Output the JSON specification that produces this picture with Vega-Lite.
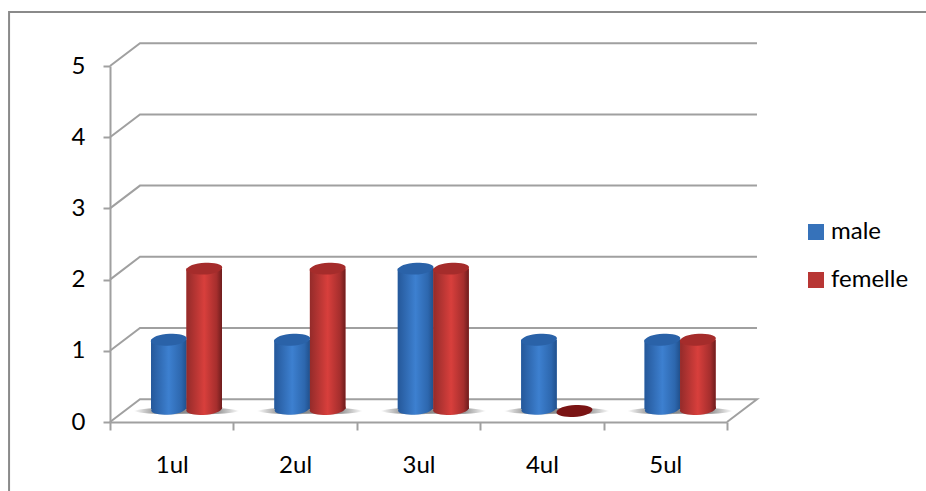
{
  "$schema": "https://vega.github.io/schema/vega-lite/v6.json",
  "width": 617,
  "height": 356,
  "autosize": "none",
  "padding": {"left": 110, "top": 66, "right": 199, "bottom": 69},
  "background": "white",
  "config": {"view": {"stroke": null}, "font": "Lato"},
  "datasets": {
    "wire": [
      {"line": "frame", "step": 0, "col": -0.818, "lvl": -0.97},
      {"line": "frame", "step": 1, "col": -0.818, "lvl": 5.758},
      {"line": "frame", "step": 2, "col": 6.62, "lvl": 5.758},
      {"line": "floor", "step": 0, "col": 0, "lvl": 0},
      {"line": "floor", "step": 1, "col": 0.243, "lvl": 0.32},
      {"line": "floor", "step": 2, "col": 5.243, "lvl": 0.32},
      {"line": "floor", "step": 3, "col": 5, "lvl": 0},
      {"line": "g1", "step": 0, "col": 0, "lvl": 1},
      {"line": "g1", "step": 1, "col": 0.243, "lvl": 1.32},
      {"line": "g1", "step": 2, "col": 5.243, "lvl": 1.32},
      {"line": "g2", "step": 0, "col": 0, "lvl": 2},
      {"line": "g2", "step": 1, "col": 0.243, "lvl": 2.32},
      {"line": "g2", "step": 2, "col": 5.243, "lvl": 2.32},
      {"line": "g3", "step": 0, "col": 0, "lvl": 3},
      {"line": "g3", "step": 1, "col": 0.243, "lvl": 3.32},
      {"line": "g3", "step": 2, "col": 5.243, "lvl": 3.32},
      {"line": "g4", "step": 0, "col": 0, "lvl": 4},
      {"line": "g4", "step": 1, "col": 0.243, "lvl": 4.32},
      {"line": "g4", "step": 2, "col": 5.243, "lvl": 4.32},
      {"line": "g5", "step": 0, "col": 0, "lvl": 5},
      {"line": "g5", "step": 1, "col": 0.243, "lvl": 5.32},
      {"line": "g5", "step": 2, "col": 5.243, "lvl": 5.32}
    ],
    "counts": [
      {"classe": "1ul", "sexe": "male", "n": 1},
      {"classe": "1ul", "sexe": "femelle", "n": 2},
      {"classe": "2ul", "sexe": "male", "n": 1},
      {"classe": "2ul", "sexe": "femelle", "n": 2},
      {"classe": "3ul", "sexe": "male", "n": 2},
      {"classe": "3ul", "sexe": "femelle", "n": 2},
      {"classe": "4ul", "sexe": "male", "n": 1},
      {"classe": "4ul", "sexe": "femelle", "n": 0},
      {"classe": "5ul", "sexe": "male", "n": 1},
      {"classe": "5ul", "sexe": "femelle", "n": 1}
    ]
  },
  "resolve": {"scale": {"x": "independent"}, "axis": {"x": "independent"}},
  "layer": [
    {
      "data": {"name": "wire"},
      "mark": {"type": "line", "strokeWidth": 2, "strokeJoin": "miter", "clip": false},
      "encoding": {
        "x": {"field": "col", "type": "quantitative", "axis": null, "scale": {"domain": [0, 5], "nice": false, "zero": false}},
        "y": {
          "field": "lvl",
          "type": "quantitative",
          "scale": {"domain": [0, 5], "nice": false},
          "axis": {
            "title": null,
            "values": [0, 1, 2, 3, 4, 5],
            "format": "d",
            "grid": false,
            "domainColor": "#a0a0a0",
            "domainWidth": 2,
            "tickColor": "#a0a0a0",
            "tickWidth": 2,
            "tickSize": 7,
            "labelPadding": 18,
            "labelFont": "Lato",
            "labelFontSize": 24,
            "labelColor": "#000000"
          }
        },
        "detail": {"field": "line"},
        "order": {"field": "step"},
        "color": {"condition": {"test": "datum.line == 'frame'", "value": "#8a8a8a"}, "value": "#a0a0a0"}
      }
    },
    {
      "data": {"name": "counts"},
      "encoding": {
        "x": {
          "field": "classe",
          "type": "nominal",
          "scale": {"paddingInner": 0, "paddingOuter": 0},
          "axis": {
            "title": null,
            "labelAngle": 0,
            "tickBand": "extent",
            "domainColor": "#a0a0a0",
            "domainWidth": 2,
            "tickColor": "#a0a0a0",
            "tickWidth": 2,
            "tickSize": 8,
            "labelPadding": 23,
            "labelFont": "Lato",
            "labelFontSize": 24,
            "labelColor": "#000000"
          }
        },
        "xOffset": {
          "field": "sexe",
          "type": "nominal",
          "sort": ["male", "femelle"],
          "scale": {"range": [41, 112], "paddingInner": 0, "paddingOuter": 0}
        },
        "y": {"field": "n", "type": "quantitative", "stack": null}
      },
      "layer": [
        {
          "mark": {
            "type": "point",
            "filled": true,
            "yOffset": -11,
            "size": 5000,
            "opacity": 1,
            "shape": "M-1,0 C-0.6,-0.12 0.6,-0.12 1,0 C0.6,0.12 -0.6,0.12 -1,0 Z",
            "color": {
              "gradient": "linear",
              "x1": 0, "x2": 1, "y1": 0, "y2": 0,
              "stops": [
                {"offset": 0, "color": "rgba(120,120,120,0)"},
                {"offset": 0.3, "color": "rgba(120,120,120,0.75)"},
                {"offset": 0.7, "color": "rgba(120,120,120,0.75)"},
                {"offset": 1, "color": "rgba(120,120,120,0)"}
              ]
            }
          },
          "encoding": {"y": {"datum": 0, "type": "quantitative"}}
        },
        {
          "transform": [{"filter": "datum.n > 0"}],
          "mark": {"type": "bar", "yOffset": -11, "y2Offset": -13},
          "encoding": {
            "y2": {"datum": 0},
            "color": {
              "field": "sexe",
              "type": "nominal",
              "sort": ["male", "femelle"],
              "scale": {"domain": ["male", "femelle"], "range": ["#3672ba", "#b83634"]},
              "legend": {
                "title": null,
                "orient": "none",
                "legendX": 694,
                "legendY": 154,
                "symbolType": "square",
                "symbolSize": 256,
                "symbolStrokeWidth": 0,
                "rowPadding": 24,
                "labelFont": "Lato",
                "labelFontSize": 24,
                "labelColor": "#000000",
                "labelOffset": 3,
                "encode": {
                  "symbols": {
                    "update": {
                      "fill": {
                        "signal": "datum.value == 'male' ? {gradient: 'linear', x1: 0, x2: 0, y1: 0, y2: 1, stops: [{offset: 0, color: '#3d7fce'}, {offset: 1, color: '#265a9c'}]} : {gradient: 'linear', x1: 0, x2: 0, y1: 0, y2: 1, stops: [{offset: 0, color: '#d23f3d'}, {offset: 1, color: '#8e2a29'}]}"
                      }
                    }
                  }
                }
              }
            }
          }
        },
        {
          "transform": [{"filter": "datum.sexe == 'male'"}],
          "layer": [
            {
              "mark": {
                "type": "point", "filled": true, "opacity": 1, "yOffset": -13, "size": 1225,
                "shape": "M-1,0.08 C-1,-0.12 -0.5,-0.33 0.05,-0.33 C0.55,-0.33 1,-0.25 1,-0.08 C1,0.12 0.5,0.33 -0.05,0.33 C-0.55,0.33 -1,0.25 -1,0.08 Z",
                "color": {"gradient": "linear", "x1": 0, "x2": 1, "y1": 0, "y2": 0, "stops": [{"offset": 0, "color": "#25589a"}, {"offset": 0.5, "color": "#3d80d0"}, {"offset": 0.85, "color": "#2d67ae"}, {"offset": 1, "color": "#21508c"}]}
              },
              "encoding": {"y": {"datum": 0, "type": "quantitative"}}
            },
            {
              "mark": {
                "type": "bar", "yOffset": -11, "y2Offset": -13,
                "color": {"gradient": "linear", "x1": 0, "x2": 1, "y1": 0, "y2": 0, "stops": [{"offset": 0, "color": "#25589a"}, {"offset": 0.5, "color": "#3d80d0"}, {"offset": 0.85, "color": "#2d67ae"}, {"offset": 1, "color": "#21508c"}]}
              },
              "encoding": {"y2": {"datum": 0}}
            }
          ]
        },
        {
          "transform": [{"filter": "datum.sexe == 'femelle' && datum.n > 0"}],
          "layer": [
            {
              "mark": {
                "type": "point", "filled": true, "opacity": 1, "yOffset": -13, "size": 1296,
                "shape": "M-1,0.08 C-1,-0.12 -0.5,-0.33 0.05,-0.33 C0.55,-0.33 1,-0.25 1,-0.08 C1,0.12 0.5,0.33 -0.05,0.33 C-0.55,0.33 -1,0.25 -1,0.08 Z",
                "color": {"gradient": "linear", "x1": 0, "x2": 1, "y1": 0, "y2": 0, "stops": [{"offset": 0, "color": "#942b2a"}, {"offset": 0.5, "color": "#d83f3c"}, {"offset": 0.85, "color": "#a52e2d"}, {"offset": 1, "color": "#6e1d1d"}]}
              },
              "encoding": {"y": {"datum": 0, "type": "quantitative"}}
            },
            {
              "mark": {
                "type": "bar", "yOffset": -11, "y2Offset": -13,
                "color": {"gradient": "linear", "x1": 0, "x2": 1, "y1": 0, "y2": 0, "stops": [{"offset": 0, "color": "#942b2a"}, {"offset": 0.5, "color": "#d83f3c"}, {"offset": 0.85, "color": "#a52e2d"}, {"offset": 1, "color": "#6e1d1d"}]}
              },
              "encoding": {"y2": {"datum": 0}}
            }
          ]
        },
        {
          "mark": {
            "type": "point", "filled": true, "opacity": 1, "yOffset": -11, "size": 1296,
            "shape": "M-1,0.08 C-1,-0.12 -0.5,-0.33 0.05,-0.33 C0.55,-0.33 1,-0.25 1,-0.08 C1,0.12 0.5,0.33 -0.05,0.33 C-0.55,0.33 -1,0.25 -1,0.08 Z"
          },
          "encoding": {
            "color": {
              "condition": [
                {"test": "datum.n == 0", "value": "#7a1414"},
                {"test": "datum.sexe == 'male'", "value": "#2a62a8"}
              ],
              "value": "#a52c2b"
            }
          }
        }
      ]
    }
  ]
}
